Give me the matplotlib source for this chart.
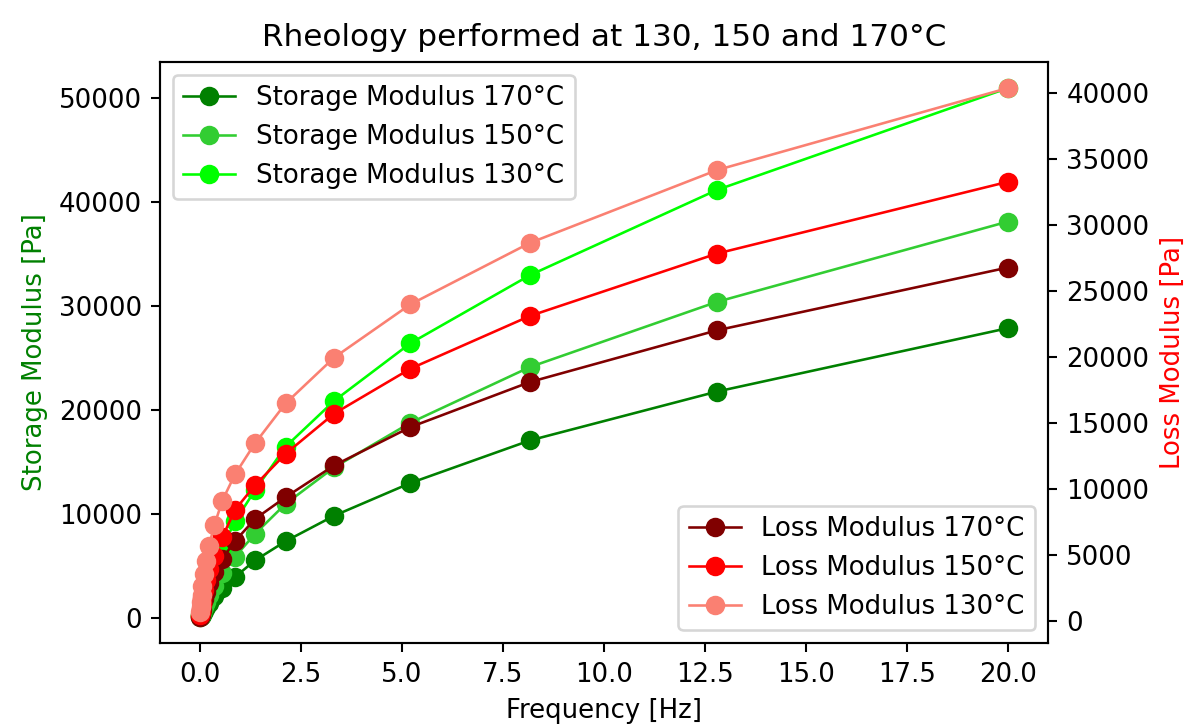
import matplotlib
matplotlib.use("Agg")
import matplotlib.pyplot as plt

# Oscillatory frequency sweep (Hz), high to low
frequency = [20.0, 12.8, 8.17, 5.21, 3.32, 2.12, 1.36, 0.866, 0.553, 0.353,
             0.225, 0.144, 0.0918, 0.0586, 0.0374, 0.0239, 0.0152, 0.0097]

# Storage modulus G' (Pa)
storage_170 = [27900, 21800, 17100, 13000, 9850, 7400, 5550, 3950, 2900, 2100,
               1480, 1030, 720, 500, 340, 235, 160, 110]
storage_150 = [38150, 30430, 24160, 18800, 14500, 11000, 8100, 5900, 4300, 3100,
               2200, 1550, 1080, 750, 520, 360, 245, 165]
storage_130 = [51000, 41200, 33000, 26450, 20900, 16500, 12300, 9300, 6800, 5000,
               3600, 2600, 1850, 1300, 920, 640, 450, 310]

# Loss modulus G'' (Pa)
loss_170 = [26770, 22010, 18090, 14670, 11760, 9360, 7700, 6020, 4700, 3700,
            2850, 2150, 1600, 1150, 820, 580, 400, 270]
loss_150 = [33270, 27830, 23100, 19100, 15690, 12650, 10250, 8400, 6320, 4930,
            3900, 3050, 2300, 1700, 1250, 900, 620, 400]
loss_130 = [40380, 34160, 28640, 23980, 19940, 16470, 13435, 11080, 9100, 7210,
            5690, 4550, 3500, 2650, 1950, 1400, 1000, 650]

temps = ["170", "150", "130"]
storage_series = [storage_170, storage_150, storage_130]
loss_series = [loss_170, loss_150, loss_130]
storage_colors = ["green", "limegreen", "lime"]
loss_colors = ["maroon", "red", "salmon"]

plt.rcParams["font.family"] = ["DejaVu Sans"]
plt.rcParams["font.size"] = 10

fig = plt.figure(figsize=(1188 / 187, 725 / 187), dpi=187)
ax1 = fig.add_axes([0.1347, 0.1125, 0.8823 - 0.1347, 0.915 - 0.1125])

for t, vals, c in zip(temps, storage_series, storage_colors):
    ax1.plot(frequency, vals, "-o", color=c, lw=1.0, ms=6.5,
             label=f"Storage Modulus {t}°C")
ax1.set_xlabel("Frequency [Hz]")
ax1.set_ylabel("Storage Modulus [Pa]", color="g")
ax1.legend(loc="upper left")

ax2 = ax1.twinx()
for t, vals, c in zip(temps, loss_series, loss_colors):
    ax2.plot(frequency, vals, "-o", color=c, lw=1.0, ms=6.5,
             label=f"Loss Modulus {t}°C")
ax2.set_ylabel("Loss Modulus [Pa]", color="r")
ax2.legend(loc="lower right")

ax1.set_title("Rheology performed at 130, 150 and 170°C", fontsize=12)

fig.savefig("out.png", dpi=187)
